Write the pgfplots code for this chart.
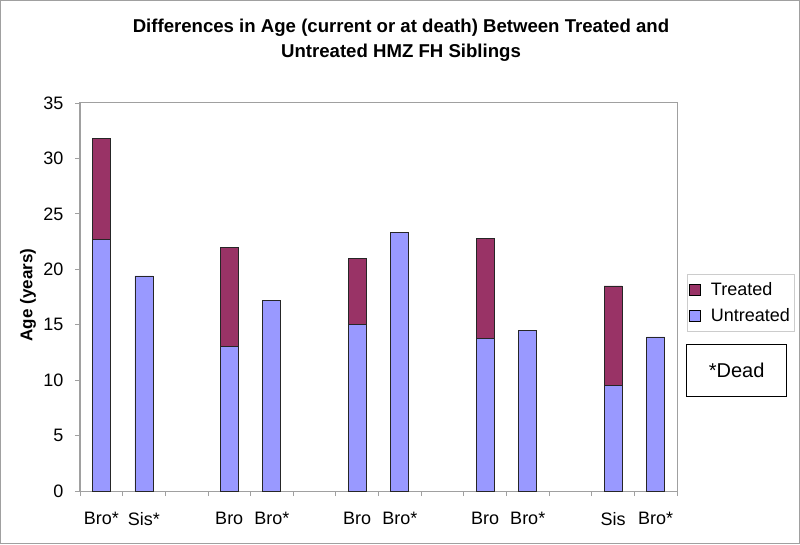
\documentclass[border=0pt]{standalone}
\usepackage{fontspec}
\setmainfont{Liberation Sans}
\usepackage{pgfplots}
\pgfplotsset{compat=1.18}
\definecolor{treated}{HTML}{993366}
\definecolor{untreated}{HTML}{9999FF}
\definecolor{framegray}{HTML}{A0A0A0}
\begin{document}
\begin{tikzpicture}
\draw[framegray, line width=1pt] (0.5pt,0.5pt) rectangle (799.5pt,543.5pt);
\begin{axis}[
  at={(80pt,53pt)}, anchor=south west,
  scale only axis, width=597pt, height=388pt,
  ybar stacked, bar width=18pt,
  xmin=-0.5, xmax=13.5, ymin=0, ymax=35,
  xtick={0,1,3,4,6,7,9,10,12,13},
  xticklabels={Bro*,Sis*,Bro,Bro*,Bro,Bro*,Bro,Bro*,Sis,Bro*},
  minor xtick={-0.5,0.5,...,13.5},
  ytick={0,5,...,35},
  xtick pos=bottom, ytick pos=left,
  tick align=outside,
  major tick length=5pt, minor tick length=5pt,
  major x tick style={draw=none},
  minor x tick style={draw=framegray, line width=0.8pt},
  major y tick style={draw=framegray, line width=0.8pt},
  axis line style={draw=framegray, line width=1pt},
  tick label style={font=\fontsize{18}{20}\selectfont},
  xticklabel style={yshift=-13pt},
  yticklabel style={xshift=-8pt},
  /pgf/number format/assume math mode=true,
  reverse legend,
  legend cell align=left,
  legend style={at={(rel axis cs:1.0168,0.559)}, anchor=north west,
    draw=black!20, font=\fontsize{18}{20}\selectfont,
    inner xsep=2pt, inner ysep=6pt, row sep=8pt,
    /tikz/every odd column/.append style={column sep=8pt},
    /tikz/every even column/.append style={column sep=6pt}},
  legend image code/.code={\draw[#1, draw=black, line width=0.7pt] (0pt,-5.5pt) rectangle (11pt,5.5pt);},
]
\addplot[fill=untreated, draw=black!85, line width=0.8pt] coordinates {(0,22.7)(1,19.4)(3,13.0)(4,17.2)(6,15.0)(7,23.3)(9,13.8)(10,14.5)(12,9.5)(13,13.9)};
\addlegendentry{Untreated}
\addplot[fill=treated, draw=black!85, line width=0.8pt] coordinates {(0,9.1)(1,0)(3,9.0)(4,0)(6,6.0)(7,0)(9,9.0)(10,0)(12,9.0)(13,0)};
\addlegendentry{Treated}
\end{axis}
\node[align=center, font=\fontsize{18.6}{25}\selectfont\bfseries] at (401pt,504pt) {Differences in Age (current or at death) Between Treated and\\Untreated HMZ FH Siblings};
\node[rotate=90, font=\fontsize{17}{20}\selectfont\bfseries] at (28pt,249pt) {Age (years)};
\node[draw=black, line width=1.2pt, minimum width=100pt, minimum height=52pt, anchor=north west, font=\fontsize{20}{22}\selectfont] at (686pt,200pt) {*Dead};
\end{tikzpicture}
\end{document}
